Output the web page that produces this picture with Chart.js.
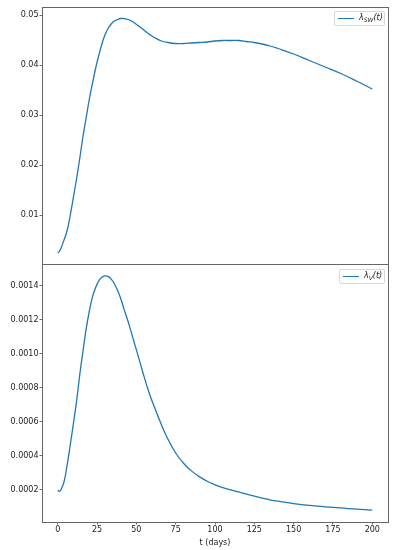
<!DOCTYPE html>
<html>
<head>
<meta charset="utf-8">
<script src="https://cdn.jsdelivr.net/npm/chart.js@4/dist/chart.umd.min.js"></script>
<style>
  html, body { margin: 0; padding: 0; background: #fff; }
  #wrap { position: relative; width: 395px; height: 550px; }
  #wrap canvas { position: absolute; left: 0; top: 0; }
  .leg {
    position: absolute; height: 13px; background: rgba(255,255,255,0.85);
    border: 1px solid #d8d8d8; border-radius: 2px;
    font-family: "DejaVu Sans", sans-serif; font-size: 8px; font-style: italic; color: #222;
  }
  .leg .ln { position: absolute; top: 6px; height: 1.3px; background: #1f77b4; }
  .leg .tx { position: absolute; top: 1px; line-height: 10px; white-space: nowrap; }
  .leg sub { font-size: 6px; vertical-align: -2px; }
</style>
</head>
<body>
<div id="wrap">
  <canvas id="topChart" width="395" height="550"></canvas>
  <canvas id="botChart" width="395" height="550"></canvas>
  <div class="leg" style="left:334px; top:11px; width:49px;">
    <span class="ln" style="left:3px; width:16px;"></span>
    <span class="tx" style="left:24px;">λ<sub>SW</sub>(t)</span>
  </div>
  <div class="leg" style="left:339px; top:269px; width:44px;">
    <span class="ln" style="left:3px; width:16px;"></span>
    <span class="tx" style="left:24px;">λ<sub>V</sub>(t)</span>
  </div>
</div>
<script>
// temps (jours)
const tDays = [0, 1, 2, 4, 6, 8, 10, 12, 14, 16, 18, 20, 22, 24, 26, 28, 30, 32, 34, 36, 38, 40, 42, 45, 48, 51, 54, 58, 62, 66, 70, 75, 80, 85, 90, 95, 100, 105, 110, 115, 120, 125, 130, 135, 140, 150, 160, 170, 180, 190, 200];

// lambda_SW(t)
const lambdaSW = [0.0024, 0.0027, 0.0033, 0.0050, 0.0069, 0.0100, 0.0136, 0.0173, 0.0213, 0.0256, 0.0293, 0.0330, 0.0362, 0.0392, 0.0418, 0.0441, 0.0460, 0.0473, 0.0482, 0.0488, 0.0491, 0.0493, 0.0493, 0.0491, 0.0486, 0.0479, 0.0472, 0.0462, 0.0454, 0.0448, 0.0445, 0.0443, 0.0443, 0.0444, 0.0445, 0.0446, 0.0448, 0.0449, 0.0449, 0.0449, 0.0447, 0.0445, 0.0442, 0.0438, 0.0433, 0.0422, 0.0409, 0.0396, 0.0383, 0.0368, 0.0352];

// lambda_V(t)
const lambdaV = [0.000196, 0.000190, 0.000198, 0.000245, 0.000345, 0.000465, 0.000590, 0.000720, 0.000875, 0.001010, 0.001140, 0.001245, 0.001330, 0.001385, 0.001425, 0.001448, 0.001456, 0.001453, 0.001437, 0.001410, 0.001372, 0.001325, 0.001265, 0.001180, 0.001085, 0.000990, 0.000893, 0.000772, 0.000672, 0.000580, 0.000497, 0.000415, 0.000355, 0.000310, 0.000276, 0.000249, 0.000228, 0.000212, 0.000198, 0.000186, 0.000173, 0.000161, 0.000150, 0.000140, 0.000132, 0.000118, 0.000107, 0.000099, 0.000092, 0.000085, 0.000079];

const xTicks = [0, 25, 50, 75, 100, 125, 150, 175, 200];
const yTicksTop = [0.01, 0.02, 0.03, 0.04, 0.05];
const yTicksBot = [0.0002, 0.0004, 0.0006, 0.0008, 0.0010, 0.0012, 0.0014];

const blue = "#1f77b4";
const tickFont = { family: "DejaVu Sans", size: 8 };
const txtColor = "#222";

// cadre complet autour de la zone de tracé (comme matplotlib)
const boxPlugin = {
  id: "box",
  afterDraw(chart) {
    const a = chart.chartArea, ctx = chart.ctx;
    ctx.save();
    ctx.strokeStyle = "#666";
    ctx.lineWidth = 1;
    ctx.strokeRect(Math.round(a.left) + 0.5, Math.round(a.top) + 0.5,
      Math.round(a.right - a.left), Math.round(a.bottom - a.top));
    ctx.restore();
  },
};

function pts(ys) {
  return tDays.map((t, i) => ({ x: t, y: ys[i] }));
}

function yAxis(min, max, ticks, digits) {
  return {
    type: "linear",
    min: min,
    max: max,
    afterFit: (s) => { s.width = 42; },
    afterBuildTicks: (s) => { s.ticks = ticks.map((v) => ({ value: v })); },
    ticks: { font: tickFont, color: txtColor, padding: 1, callback: (v) => v.toFixed(digits) },
    grid: { drawOnChartArea: false, tickLength: 2.5, tickColor: "#444", lineWidth: 0.8 },
    border: { display: false },
  };
}

function lineDataset(label, ys) {
  return {
    label: label,
    data: pts(ys),
    borderColor: blue,
    borderWidth: 1.3,
    pointRadius: 0,
    fill: false,
    tension: 0.4,
  };
}

// Graphique du haut — lambda_SW
new Chart(document.getElementById("topChart"), {
  type: "line",
  data: { datasets: [lineDataset("λSW(t)", lambdaSW)] },
  options: {
    responsive: false,
    animation: false,
    devicePixelRatio: 1,
    layout: { padding: { top: 7, right: 7, bottom: 286, left: 0 } },
    plugins: { legend: { display: false }, tooltip: { enabled: false } },
    scales: {
      x: { type: "linear", min: -10, max: 210, display: false },
      y: yAxis(0.0002, 0.0516, yTicksTop, 2),
    },
  },
  plugins: [boxPlugin],
});

// Graphique du bas — lambda_V
new Chart(document.getElementById("botChart"), {
  type: "line",
  data: { datasets: [lineDataset("λV(t)", lambdaV)] },
  options: {
    responsive: false,
    animation: false,
    devicePixelRatio: 1,
    layout: { padding: { top: 264, right: 7, bottom: 0, left: 0 } },
    plugins: { legend: { display: false }, tooltip: { enabled: false } },
    scales: {
      x: {
        type: "linear",
        min: -10,
        max: 210,
        afterFit: (s) => { s.height = 28; },
        afterBuildTicks: (s) => { s.ticks = xTicks.map((v) => ({ value: v })); },
        ticks: { font: tickFont, color: txtColor, padding: 1, maxRotation: 0 },
        grid: { drawOnChartArea: false, tickLength: 2.5, tickColor: "#444", lineWidth: 0.8 },
        border: { display: false },
        title: { display: true, text: "t (days)", font: tickFont, color: txtColor, padding: { top: 0, bottom: 2.5 } },
      },
      y: yAxis(0.0000095, 0.001526, yTicksBot, 4),
    },
  },
  plugins: [boxPlugin],
});
</script>
</body>
</html>
